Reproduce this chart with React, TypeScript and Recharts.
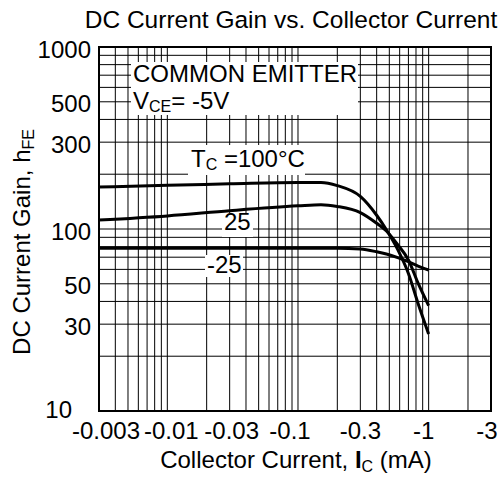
import React from "react";
import { LineChart, Line, XAxis, YAxis, ReferenceLine } from "recharts";

// Collector current |Ic| in mA, DC current gain hFE
const series100 = [
  { x: 0.003, y: 170 },
  { x: 0.01, y: 174 },
  { x: 0.03, y: 177 },
  { x: 0.1, y: 180 },
  { x: 0.15, y: 180 },
  { x: 0.2, y: 173 },
  { x: 0.3, y: 151 },
  { x: 0.4, y: 119 },
  { x: 0.475, y: 99 },
  { x: 0.58, y: 77 },
  { x: 0.7, y: 57 },
  { x: 0.83, y: 39 },
  { x: 1, y: 26.5 },
];
const series25 = [
  { x: 0.003, y: 112 },
  { x: 0.01, y: 118 },
  { x: 0.03, y: 126 },
  { x: 0.1, y: 134 },
  { x: 0.15, y: 136 },
  { x: 0.2, y: 133 },
  { x: 0.3, y: 123 },
  { x: 0.4, y: 107.5 },
  { x: 0.475, y: 97.5 },
  { x: 0.58, y: 82 },
  { x: 0.7, y: 67.6 },
  { x: 0.83, y: 50.4 },
  { x: 1, y: 37.9 },
];
const seriesM25 = [
  { x: 0.003, y: 78.3 },
  { x: 0.1, y: 78.3 },
  { x: 0.2, y: 78.3 },
  { x: 0.3, y: 77.6 },
  { x: 0.4, y: 75 },
  { x: 0.475, y: 72.9 },
  { x: 0.58, y: 69.6 },
  { x: 0.7, y: 66.1 },
  { x: 0.83, y: 62.6 },
  { x: 1, y: 59.5 },
];

const xTicks = [0.003, 0.01, 0.03, 0.1, 0.3, 1, 3];
const yTicks = [10, 30, 50, 100, 300, 500, 1000];
const gridX = [
  0.004, 0.005, 0.006, 0.007, 0.008, 0.009, 0.01,
  0.02, 0.03, 0.04, 0.05, 0.06, 0.07, 0.08, 0.09, 0.1,
  0.2, 0.3, 0.4, 0.5, 0.6, 0.7, 0.8, 0.9, 1, 2,
];
const gridY = [
  20, 30, 40, 50, 60, 70, 80, 90, 100,
  200, 300, 400, 500, 600, 700, 800, 900,
];

// small per-label nudges (typographic placement as in the source sheet)
const xTickShift: Record<string, number> = {
  "0.003": 7, "0.01": 4, "0.03": 2, "0.1": -8, "0.3": 0, "1": -5, "3": -4,
};
const yTickShift: Record<string, [number, number]> = { "10": [-19, -4] };

const FONT = '"Liberation Sans", Arial, Helvetica, sans-serif';
const W = 502;
const H = 477;

const XTick = (props: any) => {
  const { x, y, payload } = props;
  const dx = xTickShift[String(payload.value)] ?? 0;
  return (
    <text x={x + dx} y={y + 20} textAnchor="middle" fontSize={24} fontFamily={FONT} fill="#000">
      {`-${payload.value}`}
    </text>
  );
};

const YTick = (props: any) => {
  const { x, y, payload } = props;
  const [dx, dy] = yTickShift[String(payload.value)] ?? [0, 0];
  return (
    <text x={x + dx} y={y + 10.5 + dy} textAnchor="end" fontSize={24} fontFamily={FONT} fill="#000">
      {String(payload.value)}
    </text>
  );
};

export default function App() {
  return (
    <div style={{ position: "absolute", left: 0, top: 0, width: W, height: H, background: "#fff" }}>
      <LineChart
        width={W}
        height={H}
        margin={{ top: 47, right: 11, bottom: 36, left: 0 }}
      >
        <XAxis
          dataKey="x"
          type="number"
          scale="log"
          domain={[0.003, 3]}
          ticks={xTicks}
          interval={0}
          allowDataOverflow
          height={30}
          tickLine={false}
          axisLine={false}
          tick={<XTick />}
        />
        <YAxis
          type="number"
          scale="log"
          domain={[10, 1000]}
          ticks={yTicks}
          interval={0}
          allowDataOverflow
          width={99}
          tickLine={false}
          axisLine={false}
          tickSize={6}
          tickMargin={2}
          tick={<YTick />}
        />
        {gridX.map((v) => (
          <ReferenceLine key={`gx${v}`} x={v} stroke="#000" strokeWidth={1} />
        ))}
        {gridY.map((v) => (
          <ReferenceLine key={`gy${v}`} y={v} stroke="#000" strokeWidth={1} />
        ))}
        <Line data={series100} dataKey="y" type="monotone" stroke="#000" strokeWidth={3} dot={false} isAnimationActive={false} />
        <Line data={series25} dataKey="y" type="monotone" stroke="#000" strokeWidth={3} dot={false} isAnimationActive={false} />
        <Line data={seriesM25} dataKey="y" type="monotone" stroke="#000" strokeWidth={3} dot={false} isAnimationActive={false} />
      </LineChart>
      <svg
        width={W}
        height={H}
        style={{ position: "absolute", left: 0, top: 0, pointerEvents: "none" }}
        fontFamily={FONT}
      >
        <rect x={99} y={47} width={392} height={364} fill="none" stroke="#000" strokeWidth={2} />
        <text x={291} y={28} fontSize={24.5} textAnchor="middle" fill="#000">
          DC Current Gain vs. Collector Current
        </text>
        <text transform="translate(30,242) rotate(-90)" fontSize={24} textAnchor="middle" fill="#000">
          DC Current Gain, h<tspan fontSize={16} dy={4}>FE</tspan>
        </text>
        <text x={296} y={468} fontSize={24} textAnchor="middle" fill="#000">
          Collector Current, <tspan fontWeight="bold">I</tspan>
          <tspan fontSize={16} dy={4}>C</tspan>
          <tspan dy={-4}> (mA)</tspan>
        </text>
        <rect x={131} y={62} width={227} height={53} fill="#fff" />
        <text x={133} y={82} fontSize={24} fill="#000">COMMON EMITTER</text>
        <text x={133} y={109} fontSize={24} fill="#000">
          V<tspan fontSize={16} dy={3}>CE</tspan>
          <tspan dy={-3}>= -5V</tspan>
        </text>
        <rect x={188} y={145} width={117} height={30} fill="#fff" />
        <text x={191} y={167} fontSize={24} fill="#000">
          T<tspan fontSize={16} dy={3}>C</tspan>
          <tspan dy={-3}> =100°C</tspan>
        </text>
        <rect x={222} y={213} width={31} height={24} fill="#fff" />
        <text x={224} y={230} fontSize={24} fill="#000">25</text>
        <rect x={205} y={255} width={38} height={22} fill="#fff" />
        <text x={207} y={273} fontSize={24} fill="#000">-25</text>
      </svg>
    </div>
  );
}
